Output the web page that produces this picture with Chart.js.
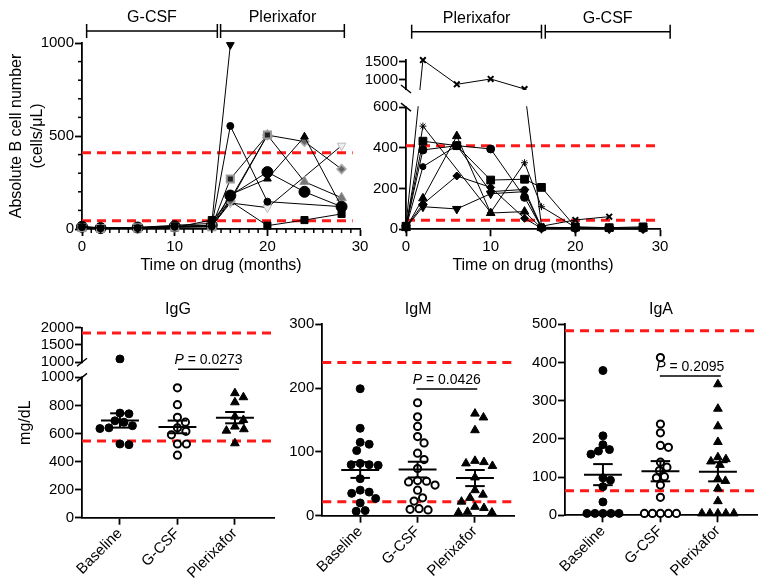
<!DOCTYPE html>
<html>
<head>
<meta charset="utf-8">
<script src="https://cdn.jsdelivr.net/npm/chart.js@4.4.0/dist/chart.umd.min.js"></script>
<style>
  body { margin: 0; background: #fff; width: 767px; height: 587px; position: relative; overflow: hidden; }
  canvas { position: absolute; }
</style>
</head>
<body>
<canvas id="bLeft"></canvas>
<canvas id="bRight"></canvas>
<canvas id="igg"></canvas>
<canvas id="igm"></canvas>
<canvas id="iga"></canvas>
<script>
// ---------- data ----------
const months = [0, 2, 6, 10, 14, 16, 20, 24, 28];

// B cells, G-CSF first then plerixafor (null = not measured)
const bLeft = [
  [15, 6, 8, 20, 30, 990, null, null, null],
  [10, 4, 5, 12, 15, 554, 147, null, 120],
  [8, 3, 6, 10, 12, 269, 505, null, null],
  [12, 5, 8, 15, 20, 180, 306, 200, 120],
  [10, 5, 6, 14, 18, 185, 270, 496, 120],
  [8, 4, 7, 10, 12, 150, 505, 470, 322],
  [10, 5, 6, 12, 14, 160, 505, 254, 168],
  [8, 3, 5, 8, 48, 150, 18, 48, 81],
  [10, 5, 8, 14, 16, 140, 115, null, 448]
];

// B cells, plerixafor first then G-CSF
const bRight = [
  [20, 1555, 880, 1028, 750, 15, 46, 62, null],
  [10, 507, null, 83, 327, 111, 10, 6, 8],
  [15, 433, 411, 242, 246, 206, 12, 8, 12],
  [12, 390, 411, 395, 157, 8, 6, 5, 4],
  [6, 152, 458, 80, 87, 6, 5, 4, 3],
  [10, 124, 262, 206, 54, 5, 4, 3, 2],
  [8, 111, 100, 175, 185, 5, 4, 3, 3],
  [9, 308, 411, 185, 196, 10, 8, 6, 5]
];

const groups = ['Baseline', 'G-CSF', 'Plerixafor'];

const iggBase = [1095, 745, 740, 690, 680, 655, 640, 635, 525, 520];
const iggGcsf = [925, 805, 715, 680, 640, 615, 590, 525, 525, 445];
const iggPlx  = [887, 858, 822, 720, 696, 649, 630, 620, 530];

const igmBase = [199, 137, 115, 112, 102, 82, 80, 80, 79, 58, 40, 37, 35, 27, 20, 8, 7];
const igmGcsf = [177, 155, 140, 124, 114, 98, 88, 74, 55, 54, 53, 48, 40, 28, 23, 11, 10, 9];
const igmPlx  = [160, 154, 134, 86, 84, 82, 78, 60, 40, 33, 28, 22, 14, 12, 6, 5, 5];

const igaBase = [379, 208, 185, 172, 168, 160, 98, 92, 75, 35, 5, 5, 5, 5, 5];
const igaGcsf = [413, 239, 216, 183, 178, 139, 126, 117, 101, 98, 79, 47, 5, 5, 5, 5, 5];
const igaPlx  = [343, 279, 233, 192, 152, 147, 141, 132, 96, 90, 70, 37, 5, 5, 5, 5, 5];

// normal ranges (red dashed lines)
const bRange = [45, 410];
const iggRange = [547, 1850];
const igmRange = [22, 240];
const igaRange = [64, 483];

const pValues = ['0.0273', '0.0426', '0.2095'];

// tick labels
const timeTicks = [0, 10, 20, 30];
const bTicksLeft = [0, 500, 1000];
const bTicksRightLow = [0, 200, 400, 600];
const bTicksRightHigh = [1000, 1500];
const iggTicksLow = [0, 200, 400, 600, 800, 1000];
const iggTicksHigh = [1000, 1500, 2000];
const igmTicks = [0, 100, 200, 300];
const igaTicks = [0, 100, 200, 300, 400, 500];

// ---------- setup ----------
const FONT = '"Liberation Sans", Arial, sans-serif';
Chart.defaults.font.family = FONT;
Chart.defaults.color = '#000';

// linear scale with a break: segments map value ranges to fractions of the height
const Linear = Chart.registry.getScale('linear');
class BrokenScale extends Linear {
  segPixel(v, i) {
    const s = this._segs[i];
    const f = s.from + (v - s.min) / (s.max - s.min) * (s.to - s.from);
    return this.bottom - f * (this.bottom - this.top);
  }
  getPixelForValue(v) {
    if (v === null || v === undefined || isNaN(v)) return NaN;
    if (!this._segs) return super.getPixelForValue(v);
    const a = this._segs[0], b = this._segs[1];
    if (v <= a.max) return this.segPixel(v, 0);
    if (v >= b.min) return this.segPixel(v, 1);
    const lo = this.segPixel(a.max, 0), hi = this.segPixel(b.min, 1);
    return lo + (v - a.max) / (b.min - a.max) * (hi - lo);
  }
  getPixelForTick(i) {
    const t = this.ticks[i];
    if (!t) return null;
    return t.seg != null ? this.segPixel(t.value, t.seg) : this.getPixelForValue(t.value);
  }
}
BrokenScale.id = 'broken';
BrokenScale.defaults = Linear.defaults;
Chart.register(BrokenScale);

function line(ctx, x1, y1, x2, y2) {
  ctx.beginPath(); ctx.moveTo(x1, y1); ctx.lineTo(x2, y2); ctx.stroke();
}

function stats(v) {
  const n = v.length, m = v.reduce((a, b) => a + b, 0) / n;
  const sd = Math.sqrt(v.reduce((a, b) => a + (b - m) * (b - m), 0) / (n - 1));
  return [m, sd / Math.sqrt(n)];
}

const decor = {
  id: 'decor',
  afterDatasetsDraw(chart, args, o) {
    const ctx = chart.ctx, xs = chart.scales.x, ys = chart.scales.y, a = chart.chartArea;
    ctx.save();
    ctx.strokeStyle = '#000'; ctx.fillStyle = '#000'; ctx.lineWidth = 1.5;

    (o.minorX || []).forEach(v => { const p = xs.getPixelForValue(v); line(ctx, p, a.bottom, p, a.bottom + 4); });
    (o.minorY || []).forEach(v => { const p = ys.getPixelForValue(v); line(ctx, a.left - 4, p, a.left, p); });

    if (o.gap) {
      const lo = ys.segPixel(ys._segs[0].max, 0), hi = ys.segPixel(ys._segs[1].min, 1);
      ctx.fillStyle = '#fff';
      ctx.fillRect(a.left - 3, hi + 1, a.right - a.left + 8, lo - hi - 2);
      ctx.fillStyle = '#000';
      const k = o.gap === '/' ? 1 : -1;
      [lo, hi].forEach(p => line(ctx, a.left - 5, p + 4 * k, a.left + 5, p - 4 * k));
    }

    ctx.font = '16px ' + FONT;
    ctx.textAlign = 'center'; ctx.textBaseline = 'middle';
    (o.brackets || []).forEach(b => {
      const x1 = xs.getPixelForValue(b.from), x2 = xs.getPixelForValue(b.to), y = o.bracketY;
      line(ctx, x1, y, x2, y);
      line(ctx, x1, y - 7, x1, y + 7);
      line(ctx, x2, y - 7, x2, y + 7);
      ctx.fillText(b.label, (x1 + x2) / 2, y - 13);
    });

    if (o.title) ctx.fillText(o.title, (a.left + a.right) / 2, o.titleY);

    ctx.lineWidth = 2;
    (o.stats || []).forEach((vals, i) => {
      const [m, se] = stats(vals);
      const c = i + 1, ym = ys.getPixelForValue(m);
      const y1 = ys.getPixelForValue(m - se), y2 = ys.getPixelForValue(m + se);
      line(ctx, xs.getPixelForValue(c - 0.33), ym, xs.getPixelForValue(c + 0.33), ym);
      line(ctx, xs.getPixelForValue(c), y1, xs.getPixelForValue(c), y2);
      [y1, y2].forEach(y => line(ctx, xs.getPixelForValue(c - 0.17), y, xs.getPixelForValue(c + 0.17), y));
    });

    if (o.pval) {
      const p = o.pval, y = a.top + p.dy;
      const x1 = xs.getPixelForValue(p.from), x2 = xs.getPixelForValue(p.to);
      ctx.lineWidth = 1.5;
      line(ctx, x1, y, x2, y);
      ctx.textAlign = 'left'; ctx.textBaseline = 'alphabetic';
      ctx.font = 'italic 14px ' + FONT;
      const w1 = ctx.measureText('P').width;
      ctx.font = '14px ' + FONT;
      const rest = ' = ' + p.text, w2 = ctx.measureText(rest).width;
      const x0 = (x1 + x2) / 2 - (w1 + w2) / 2;
      ctx.font = 'italic 14px ' + FONT;
      ctx.fillText('P', x0, y - 5);
      ctx.font = '14px ' + FONT;
      ctx.fillText(rest, x0 + w1, y - 5);
    }
    ctx.restore();
  }
};

function axis(extra, ticks) {
  return Object.assign({
    grid: { display: true, drawOnChartArea: false, drawTicks: true, tickLength: 7, tickWidth: 1.8, tickColor: '#000' },
    border: { display: true, color: '#000', width: 1.8 },
    ticks: Object.assign({ font: { size: 15 }, color: '#000', padding: 1, autoSkip: false, maxRotation: 0, callback: v => String(v) }, ticks || {})
  }, extra);
}

function fixedTicks(list) {
  return s => { s.ticks = list.map(v => ({ value: v })); };
}

function brokenTicks(segs, low, high) {
  return s => {
    s._segs = segs;
    s.ticks = low.map(v => ({ value: v, seg: 0 })).concat(high.map(v => ({ value: v, seg: 1 })));
  };
}

function rangeLines(vals, x0, x1) {
  return vals.map(v => ({
    data: [{ x: x0, y: v }, { x: x1, y: v }],
    showLine: true, pointRadius: 0, borderColor: '#ff1a1a', borderWidth: 3,
    borderDash: [9, 6], order: 10, clip: false
  }));
}

function makeChart(id, box, area, datasets, scales, decorOpts) {
  const cv = document.getElementById(id);
  cv.width = box.w; cv.height = box.h;
  cv.style.left = box.x + 'px'; cv.style.top = box.y + 'px';
  scales.x.afterFit = s => { s.height = box.h - area.bottom; };
  scales.y.afterFit = s => { s.width = area.left; };
  return new Chart(cv, {
    type: 'scatter',
    data: { datasets },
    options: {
      responsive: false, animation: false, events: [], devicePixelRatio: 1,
      layout: { padding: { left: 0, top: area.top, right: box.w - area.right, bottom: 0 } },
      plugins: { legend: { display: false }, tooltip: { enabled: false }, decor: decorOpts },
      scales
    },
    plugins: [decor]
  });
}

function seriesSets(rows, marks) {
  return rows.map((r, i) => {
    const m = marks[i];
    return {
      data: months.map((t, j) => ({ x: t, y: r[j] })).filter(p => p.y !== null),
      showLine: true, borderColor: '#000', borderWidth: 1, clip: false,
      pointStyle: m.s, pointRadius: m.r, pointRotation: m.rot || 0,
      pointBackgroundColor: m.f, pointBorderColor: m.b || '#000', pointBorderWidth: m.bw || 1
    };
  });
}

const leftMarks = [
  { s: 'triangle', r: 4.5, rot: 180, f: '#000' },
  { s: 'circle', r: 3.5, f: '#000' },
  { s: 'rect', r: 5, f: '#222', b: '#999', bw: 2 },
  { s: 'circle', r: 5.5, f: '#000' },
  { s: 'triangle', r: 4.5, f: '#000' },
  { s: 'rectRot', r: 4.5, f: '#666', b: '#aaa', bw: 1.5 },
  { s: 'triangle', r: 5.5, f: '#777', b: '#999' },
  { s: 'rect', r: 5, f: '#000' },
  { s: 'triangle', r: 5, rot: 180, f: '#eee', b: '#bbb' }
];
const rightMarks = [
  { s: 'crossRot', r: 4, f: '#000', bw: 2 },
  { s: 'star', r: 3.5, f: '#000' },
  { s: 'rect', r: 5.5, f: '#000' },
  { s: 'circle', r: 4, f: '#000' },
  { s: 'triangle', r: 5, f: '#000' },
  { s: 'rectRot', r: 4, f: '#000' },
  { s: 'triangle', r: 5, rot: 180, f: '#000' },
  { s: 'circle', r: 3, f: '#000' }
];

const minorMonths = [];
for (let t = 1; t < 30; t++) if (t % 10) minorMonths.push(t);
const minorCells = [100, 200, 300, 400, 600, 700, 800, 900];

// ---------- top left ----------
makeChart('bLeft', { x: 0, y: 0, w: 380, h: 290 }, { left: 82, top: 43, right: 360.1, bottom: 229 },
  seriesSets(bLeft, leftMarks).concat(rangeLines(bRange, 0, 29.2)),
  {
    x: axis({ type: 'linear', min: 0, max: 30, afterBuildTicks: fixedTicks(timeTicks),
      title: { display: true, text: 'Time on drug (months)', font: { size: 16 }, padding: { top: 0, bottom: 15 } } }, { padding: 2 }),
    y: axis({ type: 'linear', min: 0, max: 1000, afterBuildTicks: fixedTicks(bTicksLeft),
      title: { display: true, text: ['Absolute B cell number', '(cells/\u03bcL)'], font: { size: 16, lineHeight: 1.3 }, padding: { top: 6, bottom: 0 } } })
  },
  {
    minorX: minorMonths, minorY: minorCells, bracketY: 31,
    brackets: [{ from: 0.5, to: 14.6, label: 'G-CSF' }, { from: 14.95, to: 28.3, label: 'Plerixafor' }]
  });

// ---------- top right (broken axis) ----------
const segsRight = [{ min: 0, max: 600, from: 0, to: 0.722 }, { min: 750, max: 1550, from: 0.8297, to: 1 }];
makeChart('bRight', { x: 360, y: 0, w: 407, h: 290 }, { left: 46, top: 60.2, right: 300, bottom: 229.3 },
  seriesSets(bRight, rightMarks).concat(rangeLines(bRange, 0, 30)),
  {
    x: axis({ type: 'linear', min: 0, max: 30, afterBuildTicks: fixedTicks(timeTicks),
      title: { display: true, text: 'Time on drug (months)', font: { size: 16 }, padding: { top: 0, bottom: 15 } } }, { padding: 2 }),
    y: axis({ type: 'broken', min: 0, max: 1550, afterBuildTicks: brokenTicks(segsRight, bTicksRightLow, bTicksRightHigh) })
  },
  {
    gap: '\\', bracketY: 31.7,
    brackets: [{ from: 0.67, to: 16.0, label: 'Plerixafor' }, { from: 16.45, to: 31.2, label: 'G-CSF' }]
  });

// ---------- immunoglobulins ----------
function swarm(vals, cat, kY, kX, d) {
  const placed = [];
  const idx = vals.map((v, i) => i).sort((a, b) => vals[b] - vals[a]);
  return idx.map(i => {
    const py = vals[i] * kY;
    let off = 0;
    for (let s = 0; s < 400; s++) {
      const c = (s % 2 ? 1 : -1) * Math.ceil(s / 2) * 0.5;
      if (placed.every(p => (p[0] - c) ** 2 + (p[1] - py) ** 2 >= d * d)) { off = c; break; }
    }
    placed.push([off, py]);
    return { x: cat + off / kX, y: vals[i] };
  });
}

function igSets(sets, kY, d) {
  const styles = [
    { pointStyle: 'circle', pointRadius: 4, pointBackgroundColor: '#000', pointBorderColor: '#000', pointBorderWidth: 1 },
    { pointStyle: 'circle', pointRadius: 3.6, pointBackgroundColor: '#fff', pointBorderColor: '#000', pointBorderWidth: 2 },
    { pointStyle: 'triangle', pointRadius: 5, pointBackgroundColor: '#000', pointBorderColor: '#000', pointBorderWidth: 1 }
  ];
  return sets.map((v, i) => Object.assign({ data: swarm(v, i + 1, kY, 57.5, d), showLine: false, clip: false }, styles[i]));
}

function catAxis() {
  return axis({ type: 'linear', min: 0.34, max: 3.68, afterBuildTicks: fixedTicks([1, 2, 3]) },
    { callback: v => groups[v - 1], minRotation: 45, maxRotation: 45, padding: 0 });
}

const segsIgg = [{ min: 0, max: 1000, from: 0, to: 0.739 }, { min: 1000, max: 2000, from: 0.818, to: 1 }];
makeChart('igg', { x: 0, y: 290, w: 290, h: 297 }, { left: 82, top: 37.7, right: 274, bottom: 227.7 },
  igSets([iggBase, iggGcsf, iggPlx], 0.1403, 9).concat(rangeLines(iggRange, 0.34, 3.68)),
  {
    x: catAxis(),
    y: axis({ type: 'broken', min: 0, max: 2000, afterBuildTicks: brokenTicks(segsIgg, iggTicksLow, iggTicksHigh),
      title: { display: true, text: 'mg/dL', font: { size: 16 }, padding: { top: 16, bottom: 0 } } })
  },
  { gap: '/', title: 'IgG', titleY: 20, stats: [iggBase, iggGcsf, iggPlx], pval: { from: 2.01, to: 3.07, dy: 41.6, text: pValues[0] } });

makeChart('igm', { x: 270, y: 290, w: 250, h: 297 }, { left: 52.3, top: 34.3, right: 244.3, bottom: 225.7 },
  igSets([igmBase, igmGcsf, igmPlx], 0.638, 9).concat(rangeLines(igmRange, 0.34, 3.68)),
  {
    x: catAxis(),
    y: axis({ type: 'linear', min: 0, max: 300, afterBuildTicks: fixedTicks(igmTicks) })
  },
  { title: 'IgM', titleY: 20, stats: [igmBase, igmGcsf, igmPlx], pval: { from: 1.98, to: 3.04, dy: 64.7, text: pValues[1] } });

makeChart('iga', { x: 515, y: 290, w: 252, h: 297 }, { left: 50, top: 34.3, right: 242, bottom: 225.3 },
  igSets([igaBase, igaGcsf, igaPlx], 0.382, 7.8).concat(rangeLines(igaRange, 0.34, 3.68)),
  {
    x: catAxis(),
    y: axis({ type: 'linear', min: 0, max: 500, afterBuildTicks: fixedTicks(igaTicks) })
  },
  { title: 'IgA', titleY: 20, stats: [igaBase, igaGcsf, igaPlx], pval: { from: 1.99, to: 3.05, dy: 51.7, text: pValues[2] } });
</script>
</body>
</html>
